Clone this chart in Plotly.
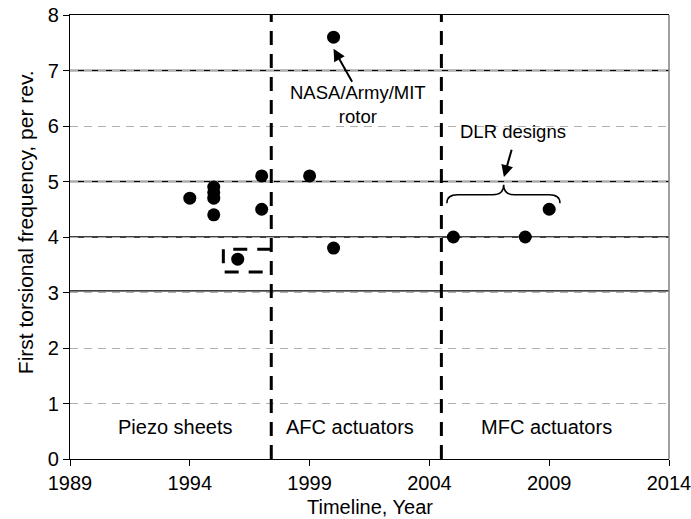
import plotly.graph_objects as go

# ---- data ----
years = [1994, 1995, 1995, 1995, 1995, 1996, 1997, 1997, 1999, 2000, 2000, 2005, 2008, 2009]
freq = [4.7, 4.9, 4.8, 4.7, 4.4, 3.6, 5.1, 4.5, 5.1, 7.6, 3.8, 4.0, 4.0, 4.5]

x_ticks = [1989, 1994, 1999, 2004, 2009, 2014]
y_ticks = [0, 1, 2, 3, 4, 5, 6, 7, 8]

era_bounds = [1997.4, 2004.5]
era_labels = ["Piezo sheets", "AFC actuators", "MFC actuators"]
era_label_x = [1993.4, 2000.7, 2008.9]
era_label_y = 0.58

solid_lines = [3.03, 4, 5, 7]

FONT = "Liberation Sans, Arial, sans-serif"
FS = 20

fig = go.Figure()
fig.add_trace(go.Scatter(
    x=years, y=freq, mode="markers",
    marker=dict(color="black", size=13, line=dict(width=0)),
    showlegend=False, hoverinfo="x+y",
))

shapes = []
for yv in solid_lines:
    shapes.append(dict(type="line", xref="paper", x0=0, x1=1, yref="y", y0=yv, y1=yv,
                       line=dict(color="black", width=1.3), layer="between"))
for xv in era_bounds:
    shapes.append(dict(type="line", xref="x", x0=xv, x1=xv, yref="y", y0=0, y1=8,
                       line=dict(color="black", width=3, dash="14px,9px"), layer="above"))
# right border
shapes.append(dict(type="line", xref="paper", x0=1, x1=1, yref="paper", y0=0, y1=1,
                   line=dict(color="#808080", width=1.5)))
# dashed bracket around the 1996 point
bx0, bx1, by0, by1 = 1995.4, era_bounds[0], 3.37, 3.78
shapes.append(dict(type="path", xref="x", yref="y",
                   path=f"M {bx1},{by1} L {bx0},{by1} L {bx0},{by0} L {bx1},{by0}",
                   line=dict(color="black", width=3, dash="14px,10px")))
# curly brace over DLR designs
L, R, M = 2004.73, 2009.45, 2007.1
yb, ya, yt = 4.61, 4.76, 4.94
brace = (f"M {L},{yb} Q {L},{ya} {L+0.45},{ya} L {M-0.45},{ya} Q {M},{ya} {M},{yt} "
         f"Q {M},{ya} {M+0.45},{ya} L {R-0.45},{ya} Q {R},{ya} {R},{yb}")
shapes.append(dict(type="path", xref="x", yref="y", path=brace,
                   line=dict(color="black", width=1.5)))

annotations = []
for lab, xv in zip(era_labels, era_label_x):
    annotations.append(dict(x=xv, y=era_label_y, xref="x", yref="y", text=lab,
                            showarrow=False, font=dict(family=FONT, size=FS, color="black")))
annotations.append(dict(x=2000, y=7.39, xref="x", yref="y", ax=2000.81, ay=6.77,
                        axref="x", ayref="y", text="", showarrow=True,
                        arrowhead=2, arrowsize=1.2, arrowwidth=2, arrowcolor="black"))
annotations.append(dict(x=2001.0, y=6.38, xref="x", yref="y", text="NASA/Army/MIT<br>rotor",
                        showarrow=False, font=dict(family=FONT, size=18.5, color="black")))
annotations.append(dict(x=2007.11, y=5.08, xref="x", yref="y", ax=2007.45, ay=5.6,
                        axref="x", ayref="y", text="", showarrow=True,
                        arrowhead=2, arrowsize=1.2, arrowwidth=2, arrowcolor="black"))
annotations.append(dict(x=2007.5, y=5.9, xref="x", yref="y", text="DLR designs",
                        showarrow=False, font=dict(family=FONT, size=18.5, color="black")))
annotations.append(dict(x=-0.073, y=0.534, xref="paper", yref="paper",
                        text="First torsional frequency, per rev.", textangle=-90,
                        showarrow=False, xanchor="center", yanchor="middle",
                        font=dict(family=FONT, size=21, color="black")))
annotations.append(dict(x=0.5, y=-0.108, xref="paper", yref="paper",
                        text="Timeline, Year", showarrow=False,
                        xanchor="center", yanchor="middle",
                        font=dict(family=FONT, size=FS, color="black")))

fig.update_layout(
    width=691, height=519,
    margin=dict(l=70, r=22, t=15, b=60, autoexpand=False),
    paper_bgcolor="white", plot_bgcolor="white",
    font=dict(family=FONT, size=FS, color="black"),
    shapes=shapes, annotations=annotations,
    showlegend=False,
    xaxis=dict(range=[1989, 2014], tickvals=x_ticks, ticktext=[str(v) for v in x_ticks],
               ticks="outside", ticklen=6, tickcolor="black", showline=True,
               linecolor="black", linewidth=1.3, mirror=True, showgrid=False,
               zeroline=False, tickfont=dict(family=FONT, size=FS),
               ticklabeloverflow="allow", automargin=False),
    yaxis=dict(range=[0, 8], tickvals=y_ticks, ticks="outside", ticklen=6,
               tickcolor="black", showline=True, linecolor="black", linewidth=1.3,
               showgrid=True, gridcolor="#b0b0b0", griddash="8px,6px", gridwidth=1,
               zeroline=False, tickfont=dict(family=FONT, size=FS), automargin=False),
)

fig.write_html(
    "out.html",
    config={"displayModeBar": False},
    post_script="document.body.style.margin='0';document.body.style.overflow='hidden';"
                "document.documentElement.style.overflow='hidden';",
)
